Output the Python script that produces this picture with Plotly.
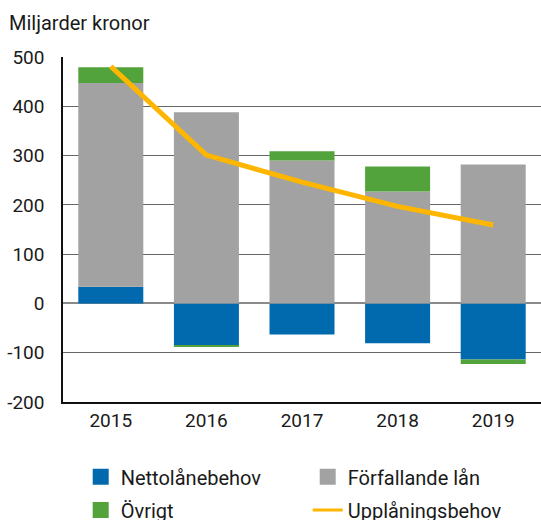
import plotly.graph_objects as go

years = ["2015", "2016", "2017", "2018", "2019"]
netto = [34, -86, -63, -81, -114]
forfallande = [413, 388, 290, 227, 282]
ovrigt = [32, -1, 19, 51, -9]
upplaning = [481, 301, 246, 197, 159]
yticks = [-200, -100, 0, 100, 200, 300, 400, 500]
yticktext = ["-200", "-100", "0", "100", "200", "300", "400", "500"]

BLUE = "#0169AE"
GRAY = "#A1A2A1"
GREEN = "#52A33B"
YELLOW = "#FFB600"
FONT = "Roboto"
TXT = "#1a1a1a"

fig = go.Figure()
fig.add_trace(go.Bar(x=years, y=netto, name="Nettolånebehov", marker_color=BLUE,
                     marker_line_width=0, showlegend=False))
fig.add_trace(go.Bar(x=years, y=forfallande, name="Förfallande lån", marker_color=GRAY,
                     marker_line_width=0, showlegend=False))
fig.add_trace(go.Bar(x=years, y=ovrigt, name="Övrigt", marker_color=GREEN,
                     marker_line_width=0, showlegend=False))
fig.add_trace(go.Scatter(x=years, y=upplaning, name="Upplåningsbehov", mode="lines",
                         line=dict(color=YELLOW, width=5), showlegend=False))

# legend entries
for name, col, lg in [("Nettolånebehov", BLUE, "legend"), ("Förfallande lån", GRAY, "legend"),
                      ("Övrigt", GREEN, "legend2")]:
    fig.add_trace(go.Scatter(x=[None], y=[None], mode="markers", name=name,
                             marker=dict(symbol="square", size=16, color=col, line_width=0),
                             legend=lg, showlegend=True))
fig.add_trace(go.Scatter(x=[None], y=[None], mode="lines", name="Upplåningsbehov",
                         line=dict(color=YELLOW, width=3), legend="legend2", showlegend=True))

legend_common = dict(orientation="h", xref="container", yref="container",
                     xanchor="left", yanchor="middle", entrywidth=182,
                     font=dict(family=FONT, size=20, color=TXT),
                     bgcolor="rgba(0,0,0,0)", itemclick=False)

fig.update_layout(
    width=541, height=520,
    margin=dict(l=63, r=0, t=57, b=118),
    barmode="relative", bargap=0.32,
    plot_bgcolor="white", paper_bgcolor="white",
    font=dict(family=FONT, size=19, color=TXT),
    title=dict(text="Miljarder kronor", xref="container", x=9/541, xanchor="left",
               yref="container", y=1-23/520, yanchor="middle",
               font=dict(family=FONT, size=20, color=TXT)),
    legend=dict(x=80.7/541, y=1-476.7/520, **legend_common),
    legend2=dict(x=80.7/541, y=1-510/520, **legend_common),
    xaxis=dict(type="category", showline=True, linecolor="#111", linewidth=1.5,
               mirror=False, ticks="", showgrid=False,
               tickfont=dict(family=FONT, size=19, color=TXT)),
    yaxis=dict(range=[-200, 500], tickvals=yticks, ticktext=yticktext, showline=True,
               linecolor="#111", linewidth=1.5, ticks="", showgrid=True,
               gridcolor="#666666", gridwidth=1.2,
               zeroline=True, zerolinecolor="#8a8a8a", zerolinewidth=1.5,
               tickfont=dict(family=FONT, size=19, color=TXT), ticklabelstandoff=13),
)

fig.write_html("out.html", config={"displayModeBar": False},
               post_script="document.body.style.margin='0';document.body.style.padding='0';")
